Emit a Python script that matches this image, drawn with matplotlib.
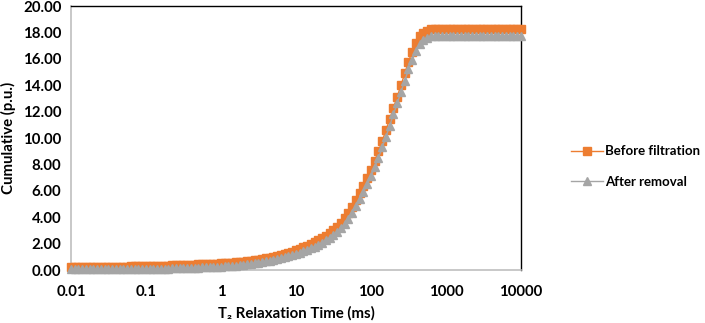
# Cumulative T2 distribution, before filtration vs after removal
import matplotlib
matplotlib.use('Agg')
import matplotlib.pyplot as plt

# T2 grid (ms), 20 points per decade from 0.01 to 10000
t2 = [0.01, 0.01122, 0.01259, 0.01413, 0.01585, 0.01778, 0.01995, 0.02239, 0.02512, 0.02818,
      0.03162, 0.03548, 0.03981, 0.04467, 0.05012, 0.05623, 0.0631, 0.07079, 0.07943, 0.08913,
      0.1, 0.1122, 0.1259, 0.1413, 0.1585, 0.1778, 0.1995, 0.2239, 0.2512, 0.2818,
      0.3162, 0.3548, 0.3981, 0.4467, 0.5012, 0.5623, 0.631, 0.7079, 0.7943, 0.8913,
      1.0, 1.122, 1.259, 1.413, 1.585, 1.778, 1.995, 2.239, 2.512, 2.818,
      3.162, 3.548, 3.981, 4.467, 5.012, 5.623, 6.31, 7.079, 7.943, 8.913,
      10.0, 11.22, 12.59, 14.13, 15.85, 17.78, 19.95, 22.39, 25.12, 28.18,
      31.62, 35.48, 39.81, 44.67, 50.12, 56.23, 63.1, 70.79, 79.43, 89.13,
      100.0, 112.2, 125.9, 141.3, 158.5, 177.8, 199.5, 223.9, 251.2, 281.8,
      316.2, 354.8, 398.1, 446.7, 501.2, 562.3, 631.0, 707.9, 794.3, 891.3,
      1000.0, 1122.0, 1259.0, 1413.0, 1585.0, 1778.0, 1995.0, 2239.0, 2512.0, 2818.0,
      3162.0, 3548.0, 3981.0, 4467.0, 5012.0, 5623.0, 6310.0, 7079.0, 7943.0, 8913.0,
      10000.0]

before = [0.20, 0.20, 0.21, 0.21, 0.21, 0.22, 0.22, 0.22, 0.23, 0.23,
          0.24, 0.24, 0.25, 0.25, 0.26, 0.26, 0.27, 0.28, 0.28, 0.29,
          0.30, 0.31, 0.31, 0.32, 0.33, 0.34, 0.34, 0.35, 0.36, 0.37,
          0.38, 0.39, 0.40, 0.41, 0.43, 0.44, 0.45, 0.47, 0.48, 0.49,
          0.50, 0.52, 0.54, 0.56, 0.58, 0.60, 0.63, 0.66, 0.70, 0.74,
          0.78, 0.83, 0.88, 0.94, 0.99, 1.05, 1.13, 1.21, 1.30, 1.40,
          1.50, 1.61, 1.73, 1.85, 1.98, 2.11, 2.25, 2.42, 2.60, 2.80,
          3.03, 3.28, 3.55, 3.92, 4.30, 4.80, 5.30, 5.85, 6.40, 7.00,
          7.60, 8.30, 9.00, 9.80, 10.60, 11.45, 12.30, 13.15, 14.00, 14.90,
          15.80, 16.55, 17.20, 17.70, 18.00, 18.15, 18.25, 18.28, 18.28, 18.28,
          18.28, 18.28, 18.28, 18.28, 18.28, 18.28, 18.28, 18.28, 18.28, 18.28,
          18.28, 18.28, 18.28, 18.28, 18.28, 18.28, 18.28, 18.28, 18.28, 18.28,
          18.28]

after = [0.05, 0.05, 0.05, 0.05, 0.05, 0.05, 0.06, 0.06, 0.06, 0.06,
         0.06, 0.06, 0.06, 0.07, 0.07, 0.07, 0.07, 0.07, 0.08, 0.08,
         0.08, 0.09, 0.09, 0.10, 0.10, 0.11, 0.11, 0.12, 0.13, 0.14,
         0.15, 0.16, 0.17, 0.18, 0.19, 0.20, 0.21, 0.22, 0.23, 0.24,
         0.25, 0.27, 0.29, 0.31, 0.34, 0.37, 0.40, 0.44, 0.48, 0.52,
         0.56, 0.61, 0.66, 0.71, 0.77, 0.83, 0.90, 0.98, 1.06, 1.14,
         1.22, 1.32, 1.42, 1.53, 1.65, 1.78, 1.92, 2.08, 2.25, 2.45,
         2.66, 2.90, 3.16, 3.50, 3.90, 4.35, 4.85, 5.35, 5.90, 6.50,
         7.10, 7.80, 8.50, 9.30, 10.10, 10.95, 11.80, 12.65, 13.50, 14.35,
         15.20, 15.95, 16.60, 17.10, 17.40, 17.60, 17.70, 17.72, 17.72, 17.72,
         17.72, 17.72, 17.72, 17.72, 17.72, 17.72, 17.72, 17.72, 17.72, 17.72,
         17.72, 17.72, 17.72, 17.72, 17.72, 17.72, 17.72, 17.72, 17.72, 17.72,
         17.72]

xticks = [0.01, 0.1, 1, 10, 100, 1000, 10000]
xlabels = ['0.01', '0.1', '1', '10', '100', '1000', '10000']
yticks = [0, 2, 4, 6, 8, 10, 12, 14, 16, 18, 20]

plt.rcParams['font.family'] = ['Lato', 'DejaVu Sans']
plt.rcParams['font.weight'] = 'bold'

fig = plt.figure(figsize=(7.05, 3.23), dpi=100)
ax = fig.add_axes([0.1007, 0.164, 0.6383, 0.817])

ax.plot(t2, before, color='#ED7D31', marker='s', markersize=6, lw=1,
        label='Before filtration', clip_on=False, zorder=3)
ax.plot(t2, after, color='#A5A5A5', marker='^', markersize=6, lw=1,
        label='After removal', clip_on=False, zorder=4)

ax.set_xscale('log')
ax.set_xlim(0.01, 10000)
ax.set_ylim(0, 20)
ax.set_xticks(xticks)
ax.set_xticklabels(xlabels)
ax.minorticks_off()
ax.set_yticks(yticks)
ax.set_yticklabels(['%.2f' % v for v in yticks])
ax.tick_params(length=0, labelsize=10.8)
ax.tick_params(axis='y', pad=7)
ax.tick_params(axis='x', pad=11)

for s in ['top', 'right']:
    ax.spines[s].set_color('black')
    ax.spines[s].set_linewidth(1)
for s in ['left', 'bottom']:
    ax.spines[s].set_color('#BFBFBF')
    ax.spines[s].set_linewidth(1.2)

ax.set_xlabel('T\u2082 Relaxation Time (ms)', fontsize=10.8, fontweight='bold', labelpad=5)
ax.set_ylabel('Cumulative (p.u.)', fontsize=10.8, fontweight='bold', labelpad=5)

# legend to the right of the plot area
leg = fig.legend(loc='center left', bbox_to_anchor=(0.793, 0.4845), frameon=False,
                 fontsize=9.5, handlelength=2.4, handletextpad=0.15, labelspacing=1.4)

fig.savefig('out.png', dpi=100)
